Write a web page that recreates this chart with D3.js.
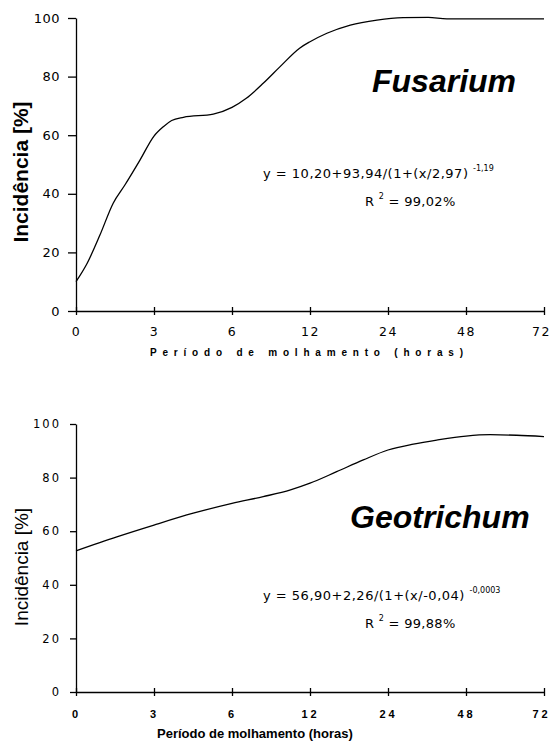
<!DOCTYPE html>
<html>
<head>
<meta charset="utf-8">
<script src="https://cdnjs.cloudflare.com/ajax/libs/d3/7.8.5/d3.min.js"></script>
<style>
  body { margin: 0; background: #fff; }
  svg { display: block; }
</style>
</head>
<body>
<div id="chart"></div>
<script>
// x axis categories (hours) - drawn equally spaced
var hourTicks = [0, 3, 6, 12, 24, 48, 72];
var yTicks = [0, 20, 40, 60, 80, 100];

// Fusarium curve
var fusHours = [0, 0.43, 0.92, 1.43, 1.88, 2.46, 3, 3.36, 3.68, 4.13, 5.28, 6, 7.1, 8.4, 9.7, 11.2, 12, 14.6, 18.2, 22.3, 28.7, 36.4, 42.1, 48, 60, 72];
var fusValues = [10, 16.3, 25.9, 36.8, 43, 51.5, 59.7, 62.9, 65, 66.1, 67.2, 69.5, 72.6, 77.7, 83.4, 89.7, 91.9, 94.8, 97.6, 99.3, 100.1, 100.2, 99.7, 99.7, 99.7, 99.7];

// Geotrichum curve
var geoHours = [0, 1.57, 3, 4.51, 6, 8.4, 10.5, 12, 16.1, 20.2, 24, 31.8, 39, 48, 55.4, 63.6, 72];
var geoValues = [52.7, 57.9, 62.3, 66.7, 70.4, 72.9, 75.4, 77.9, 82.2, 86.6, 90.3, 92.5, 94, 95.5, 96, 95.8, 95.3];

var svgWidth = 553;
var svgHeight = 748;

var svg = d3.select("#chart")
  .append("svg")
  .attr("width", svgWidth)
  .attr("height", svgHeight);

// piecewise linear scale so that 0,3,6,12,24,48,72 are evenly spaced
var xLeft = 76, xRight = 544;
var xScale = d3.scaleLinear()
  .domain(hourTicks)
  .range(hourTicks.map(function (d, i) { return xLeft + i * (xRight - xLeft) / (hourTicks.length - 1); }));

function drawPanel(opts) {
  var yScale = d3.scaleLinear().domain([0, 100]).range([opts.bottom, opts.top]);
  var g = svg.append("g");

  // y axis
  var yAxis = g.append("g")
    .attr("transform", `translate(${xLeft},0)`)
    .call(d3.axisLeft(yScale).tickValues(yTicks).tickSize(opts.yTickSize).tickSizeOuter(0).tickPadding(opts.yPad));
  yAxis.select(".domain").attr("stroke-width", 1.3);
  yAxis.selectAll("line").attr("stroke-width", 1.3);
  yAxis.selectAll("text")
    .attr("font-family", "DejaVu Sans")
    .attr("font-size", opts.yFont)
    .attr("letter-spacing", opts.yLs)
    .attr("fill", "#000");

  // x axis, ticks crossing the line
  var xAxis = g.append("g")
    .attr("transform", `translate(0,${opts.bottom})`)
    .call(d3.axisBottom(xScale).tickValues(hourTicks).tickSize(4).tickSizeOuter(0).tickFormat(d3.format("d")));
  xAxis.select(".domain").attr("stroke-width", 1.3);
  xAxis.selectAll("line").attr("y1", -4).attr("stroke-width", 1.3);
  xAxis.selectAll("text")
    .attr("y", opts.xLabelY - opts.bottom)
    .attr("dy", 0)
    .attr("font-family", opts.xFontFamily)
    .attr("font-weight", opts.xWeight)
    .attr("font-size", opts.xFont)
    .attr("letter-spacing", opts.xLs)
    .attr("fill", "#000");
  // keep the last label inside the page
  xAxis.selectAll("text").filter(function (d) { return d === 72; }).attr("dx", -3);

  // curve
  var line = d3.line()
    .x(function (d) { return xScale(d[0]); })
    .y(function (d) { return yScale(d[1]); })
    .curve(d3.curveMonotoneX);
  g.append("path")
    .datum(d3.zip(opts.hours, opts.values))
    .attr("d", line)
    .attr("fill", "none")
    .attr("stroke", "#000")
    .attr("stroke-width", 1.3);

  // y title
  g.append("text")
    .attr("transform", "rotate(-90)")
    .attr("x", -opts.yTitleCenter)
    .attr("y", 28)
    .attr("text-anchor", "middle")
    .attr("font-family", "Liberation Sans, Arial")
    .attr("font-weight", opts.yTitleWeight)
    .attr("font-size", opts.yTitleFont)
    .text("Incidência [%]");

  // x title
  g.append("text")
    .attr("x", opts.xTitleX)
    .attr("y", opts.xTitleY)
    .attr("font-family", "Liberation Sans, Arial")
    .attr("font-weight", "bold")
    .attr("font-size", opts.xTitleFont)
    .attr("letter-spacing", opts.xTitleLs)
    .text("Período de molhamento (horas)");

  // species name
  g.append("text")
    .attr("x", opts.nameX)
    .attr("y", opts.nameY)
    .attr("font-family", "Liberation Sans, Arial")
    .attr("font-weight", "bold")
    .attr("font-style", "italic")
    .attr("font-size", 32)
    .text(opts.name);

  // equation
  var eq = g.append("text")
    .attr("x", 263)
    .attr("y", opts.eqY)
    .attr("font-family", "DejaVu Sans")
    .attr("font-size", 13)
    .attr("letter-spacing", 0.5);
  eq.append("tspan").text(opts.eq + " ");
  eq.append("tspan").attr("font-size", 8).attr("dy", -7).attr("letter-spacing", 0).text(opts.exp);

  var r2 = g.append("text")
    .attr("x", 365)
    .attr("y", opts.eqY + 28)
    .attr("font-family", "DejaVu Sans")
    .attr("font-size", 13)
    .attr("letter-spacing", 0.3);
  r2.append("tspan").text("R ");
  r2.append("tspan").attr("font-size", 8).attr("dy", -7).text("2");
  r2.append("tspan").attr("dy", 7).text(" = " + opts.r2);
}

drawPanel({
  top: 18, bottom: 311,
  hours: fusHours, values: fusValues,
  yTickSize: 8, yPad: 8, yFont: 13, yLs: 0.5,
  xLabelY: 336, xFontFamily: "DejaVu Sans", xWeight: "normal", xFont: 12.5, xLs: 1.5,
  yTitleCenter: 172, yTitleWeight: "bold", yTitleFont: 21,
  xTitleX: 150, xTitleY: 356, xTitleFont: 10, xTitleLs: 5.8,
  name: "Fusarium", nameX: 372, nameY: 92,
  eq: "y = 10,20+93,94/(1+(x/2,97)", exp: "-1,19", eqY: 178, r2: "99,02%"
});

drawPanel({
  top: 424, bottom: 692,
  hours: geoHours, values: geoValues,
  yTickSize: 6, yPad: 9, yFont: 11.5, yLs: 2,
  xLabelY: 718, xFontFamily: "Liberation Sans, Arial", xWeight: "bold", xFont: 11, xLs: 3,
  yTitleCenter: 567, yTitleWeight: "normal", yTitleFont: 19,
  xTitleX: 157, xTitleY: 738, xTitleFont: 13, xTitleLs: 0,
  name: "Geotrichum", nameX: 350, nameY: 528,
  eq: "y = 56,90+2,26/(1+(x/-0,04)", exp: "-0,0003", eqY: 600, r2: "99,88%"
});
</script>
</body>
</html>
